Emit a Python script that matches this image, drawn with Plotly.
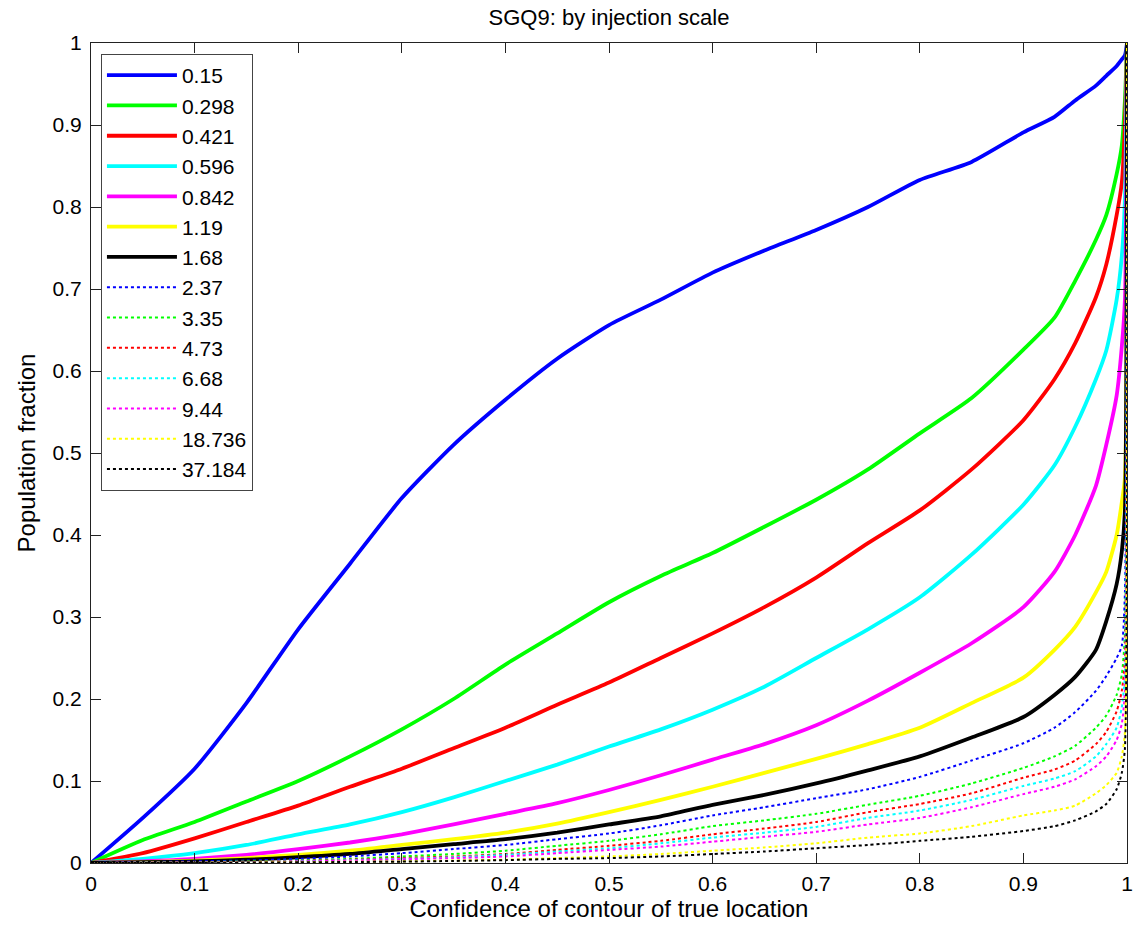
import plotly.graph_objects as go

x_conf = [0, 0.05, 0.1, 0.15, 0.2, 0.25, 0.3, 0.35, 0.4, 0.45, 0.5, 0.55, 0.6, 0.65,
          0.7, 0.75, 0.8, 0.85, 0.9, 0.93, 0.95, 0.97, 0.98, 0.99, 0.995, 0.998, 1.0]

scale_labels = ["0.15", "0.298", "0.421", "0.596", "0.842", "1.19", "1.68",
                "2.37", "3.35", "4.73", "6.68", "9.44", "18.736", "37.184"]

y_015 = [0, 0.055, 0.115, 0.195, 0.285, 0.365, 0.445, 0.51, 0.565, 0.615, 0.656, 0.687, 0.72, 0.747,
         0.772, 0.8, 0.833, 0.855, 0.891, 0.91, 0.93, 0.948, 0.96, 0.972, 0.98, 0.985, 1.0]
y_0298 = [0, 0.028, 0.05, 0.075, 0.10, 0.13, 0.163, 0.2, 0.242, 0.28, 0.318, 0.35, 0.378, 0.41,
          0.443, 0.48, 0.524, 0.567, 0.626, 0.665, 0.71, 0.76, 0.79, 0.84, 0.875, 0.93, 1.0]
y_0421 = [0, 0.012, 0.03, 0.05, 0.07, 0.093, 0.115, 0.14, 0.165, 0.193, 0.22, 0.25, 0.28, 0.312,
          0.348, 0.39, 0.43, 0.48, 0.54, 0.59, 0.634, 0.69, 0.73, 0.79, 0.83, 0.9, 1.0]
y_0596 = [0, 0.005, 0.012, 0.022, 0.035, 0.047, 0.062, 0.08, 0.1, 0.12, 0.142, 0.163, 0.187, 0.215,
          0.25, 0.285, 0.324, 0.376, 0.437, 0.485, 0.532, 0.59, 0.625, 0.687, 0.74, 0.81, 1.0]
y_0842 = [0, 0.002, 0.005, 0.01, 0.017, 0.025, 0.035, 0.047, 0.06, 0.073, 0.089, 0.107, 0.126, 0.145,
          0.168, 0.198, 0.232, 0.268, 0.312, 0.355, 0.40, 0.46, 0.51, 0.57, 0.63, 0.687, 1.0]
y_119 = [0, 0.001, 0.003, 0.006, 0.01, 0.015, 0.022, 0.029, 0.037, 0.048, 0.062, 0.077, 0.093, 0.11,
         0.127, 0.145, 0.165, 0.195, 0.226, 0.26, 0.288, 0.33, 0.355, 0.4, 0.44, 0.47, 1.0]
y_168 = [0, 0.001, 0.002, 0.004, 0.007, 0.011, 0.017, 0.023, 0.029, 0.037, 0.047, 0.057, 0.071, 0.083,
         0.097, 0.113, 0.13, 0.153, 0.178, 0.205, 0.227, 0.26, 0.295, 0.34, 0.38, 0.43, 1.0]
y_237 = [0, 0.001, 0.002, 0.003, 0.005, 0.008, 0.012, 0.017, 0.022, 0.029, 0.036, 0.046, 0.058, 0.068,
         0.079, 0.09, 0.105, 0.125, 0.146, 0.165, 0.184, 0.21, 0.228, 0.25, 0.265, 0.33, 1.0]
y_335 = [0, 0.0005, 0.001, 0.002, 0.003, 0.005, 0.008, 0.011, 0.015, 0.021, 0.027, 0.035, 0.045, 0.052,
         0.06, 0.071, 0.082, 0.097, 0.116, 0.13, 0.143, 0.165, 0.18, 0.205, 0.23, 0.28, 1.0]
y_473 = [0, 0.0004, 0.001, 0.0015, 0.0025, 0.004, 0.006, 0.008, 0.011, 0.016, 0.021, 0.027, 0.035, 0.042,
         0.05, 0.062, 0.072, 0.085, 0.104, 0.114, 0.125, 0.145, 0.16, 0.185, 0.21, 0.25, 1.0]
y_668 = [0, 0.0003, 0.0008, 0.0012, 0.002, 0.0035, 0.005, 0.007, 0.01, 0.014, 0.018, 0.024, 0.031, 0.037,
         0.044, 0.055, 0.064, 0.077, 0.094, 0.103, 0.112, 0.13, 0.145, 0.165, 0.19, 0.23, 1.0]
y_944 = [0, 0.0003, 0.0006, 0.001, 0.0018, 0.003, 0.0045, 0.006, 0.008, 0.012, 0.016, 0.02, 0.026, 0.032,
         0.038, 0.047, 0.055, 0.068, 0.084, 0.093, 0.102, 0.118, 0.13, 0.15, 0.17, 0.21, 1.0]
y_18736 = [0, 0.0002, 0.0004, 0.0007, 0.001, 0.0015, 0.002, 0.003, 0.004, 0.006, 0.008, 0.011, 0.015, 0.019,
           0.024, 0.031, 0.036, 0.045, 0.058, 0.064, 0.07, 0.085, 0.095, 0.11, 0.13, 0.16, 1.0]
y_37184 = [0, 0.0001, 0.0003, 0.0005, 0.0008, 0.0012, 0.0017, 0.0025, 0.0035, 0.005, 0.006, 0.008, 0.011, 0.014,
           0.018, 0.022, 0.027, 0.032, 0.039, 0.045, 0.052, 0.063, 0.072, 0.09, 0.11, 0.14, 1.0]

series = [y_015, y_0298, y_0421, y_0596, y_0842, y_119, y_168,
          y_237, y_335, y_473, y_668, y_944, y_18736, y_37184]

tick_vals = [0, 0.1, 0.2, 0.3, 0.4, 0.5, 0.6, 0.7, 0.8, 0.9, 1.0]
tick_text = ["0", "0.1", "0.2", "0.3", "0.4", "0.5", "0.6", "0.7", "0.8", "0.9", "1"]

colors = ["#0000FF", "#00FF00", "#FF0000", "#00FFFF", "#FF00FF", "#FFFF00", "#000000"]

fig = go.Figure()
for i, (lab, ys) in enumerate(zip(scale_labels, series)):
    solid = i < 7
    fig.add_trace(go.Scatter(
        x=x_conf, y=ys, mode="lines", name=lab, legendgroup=lab,
        line=dict(color=colors[i % 7], width=3.8 if solid else 2,
                  dash="solid" if solid else "dot",
                  shape="spline", smoothing=0.6),
    ))

font_family = "Liberation Sans, Arial, sans-serif"
axis_common = dict(
    range=[0, 1], tickvals=tick_vals, ticktext=tick_text,
    ticks="inside", ticklen=10, tickwidth=1, tickcolor="#222",
    showline=True, linecolor="#222", linewidth=1, mirror="ticks",
    showgrid=False, zeroline=False,
    tickfont=dict(family=font_family, size=21, color="black"),
)

fig.update_layout(
    width=1145, height=926,
    margin=dict(l=91, r=13, t=43, b=63),
    paper_bgcolor="white", plot_bgcolor="white",
    title=dict(text="SGQ9: by injection scale", x=0.5, xref="paper", xanchor="center",
               y=0.981, yanchor="middle",
               font=dict(family=font_family, size=22, color="black")),
    xaxis=dict(**axis_common, ticklabelstandoff=2,
               title=dict(text="Confidence of contour of true location", standoff=2,
                          font=dict(family=font_family, size=24, color="black"))),
    yaxis=dict(**axis_common, ticklabelstandoff=4,
               title=dict(text="Population fraction", standoff=10,
                          font=dict(family=font_family, size=24, color="black"))),
    legend=dict(x=0.0096, y=0.9866, xanchor="left", yanchor="top",
                bgcolor="white", bordercolor="#444", borderwidth=1,
                tracegroupgap=0, itemwidth=70,
                font=dict(family=font_family, size=21, color="black")),
    showlegend=True,
)

fig.write_html("out.html")
